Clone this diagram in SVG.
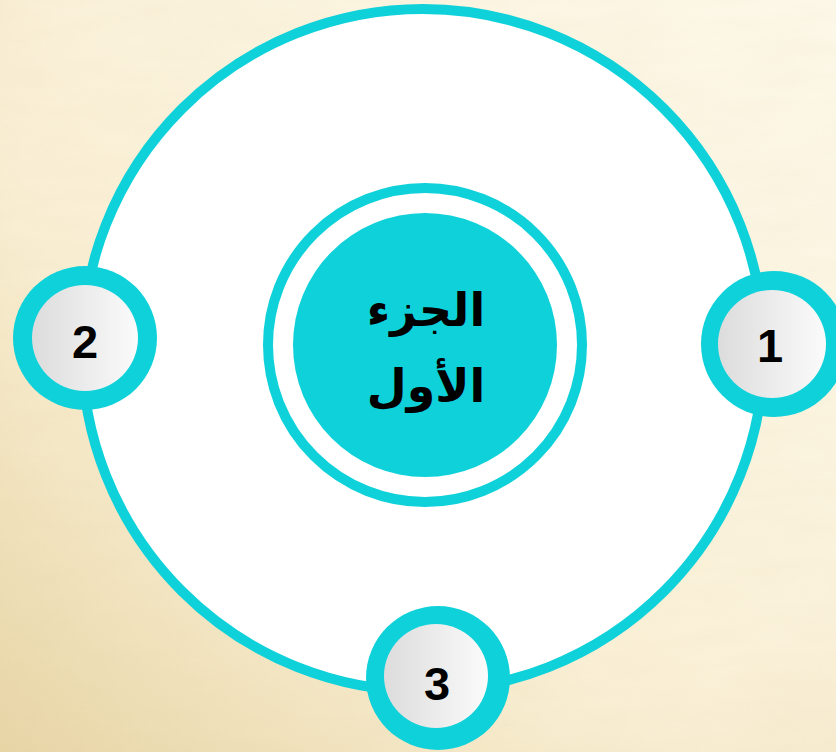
<svg xmlns="http://www.w3.org/2000/svg" width="836" height="752" viewBox="0 0 836 752">
  <defs>
    <linearGradient id="bg" x1="1" y1="0" x2="0" y2="1">
      <stop offset="0" stop-color="#fdf9ea"/>
      <stop offset="0.6" stop-color="#faf0d6"/>
      <stop offset="1" stop-color="#ecdbae"/>
    </linearGradient>
    <radialGradient id="vig" cx="0.6" cy="0.35" r="0.9">
      <stop offset="0.65" stop-color="#d8c08a" stop-opacity="0"/>
      <stop offset="1" stop-color="#d2b67c" stop-opacity="0.18"/>
    </radialGradient>
    <linearGradient id="btn" x1="0" y1="0" x2="1" y2="0">
      <stop offset="0" stop-color="#dcdcdc"/>
      <stop offset="1" stop-color="#fbfbfb"/>
    </linearGradient>
    <filter id="grain" x="0" y="0" width="100%" height="100%">
      <feTurbulence type="fractalNoise" baseFrequency="0.012 0.05" numOctaves="3" seed="4"/>
      <feColorMatrix type="matrix" values="0 0 0 0 0.75  0 0 0 0 0.62  0 0 0 0 0.38  0 0 0 0.35 -0.05"/>
    </filter>
    <style>
      .cyan { fill: #0fd1da; }
      .ring { fill: none; stroke: #0fd1da; }
      .btn { fill: url(#btn); }
      .num { font-family: "Liberation Sans", Arial, sans-serif; font-weight: bold; font-size: 47px; fill: #000; text-anchor: middle; }
      .ar { font-family: "DejaVu Sans", sans-serif; font-weight: bold; font-size: 46px; fill: #000; text-anchor: middle; direction: rtl; }
    </style>
  </defs>

  <rect width="836" height="752" fill="url(#bg)"/>
  <rect width="836" height="752" fill="url(#vig)"/>
  <rect width="836" height="752" filter="url(#grain)" opacity="0.4"/>

  <g id="connectors">
    <circle cx="423" cy="350" r="341" style="fill:#ffffff" class="ring" stroke-width="10"/>
  </g>

  <g id="center">
    <circle cx="425" cy="345" r="157" class="ring" stroke-width="10"/>
    <circle cx="425" cy="345" r="132" class="cyan"/>
    <text class="ar" x="426" y="326">الجزء</text>
    <text class="ar" x="426" y="402">الأول</text>
  </g>

  <g id="node1">
    <circle cx="774" cy="344" r="73" class="cyan"/>
    <circle cx="772" cy="344" r="54" class="btn"/>
    <text class="num" x="770" y="362">1</text>
  </g>

  <g id="node2">
    <circle cx="85" cy="338" r="72" class="cyan"/>
    <circle cx="85" cy="338" r="53" class="btn"/>
    <text class="num" x="85" y="358">2</text>
  </g>

  <g id="node3">
    <circle cx="438" cy="678" r="72" class="cyan"/>
    <circle cx="436" cy="676" r="52" class="btn"/>
    <text class="num" x="437" y="700">3</text>
  </g>
</svg>
